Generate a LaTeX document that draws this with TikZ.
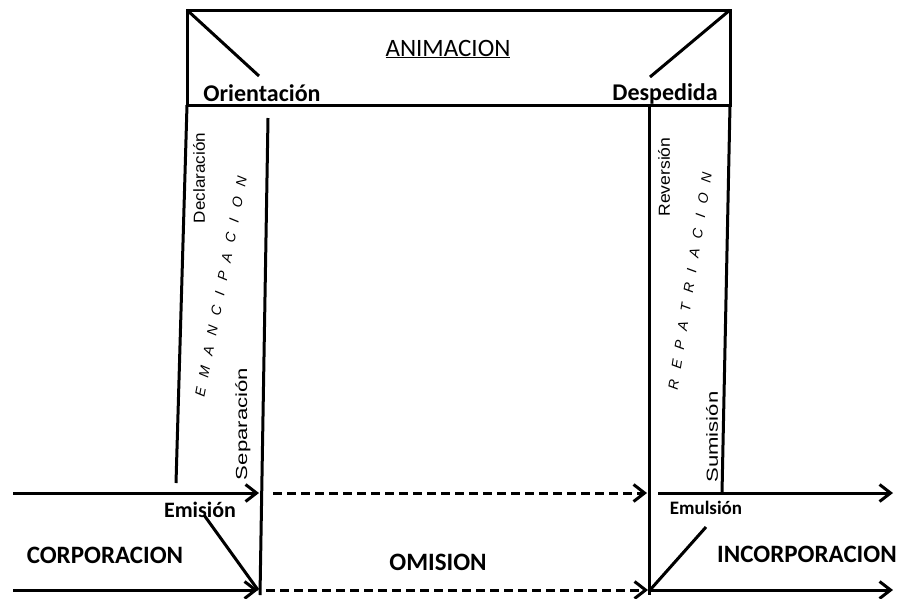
\documentclass[tikz,border=0pt]{standalone}
\usepackage{fontspec}
\setmainfont{Carlito}
\newfontfamily\arialf{Liberation Sans}
\newfontfamily\spacedf[LetterSpace=76]{Liberation Sans}
\usetikzlibrary{arrows.meta}
\begin{document}
\begin{tikzpicture}[x=1pt,y=-1pt,
  ln/.style={line width=3pt},
  dsh/.style={line width=3pt, dash pattern=on 9pt off 5pt},
  arr/.style={-{Straight Barb[length=11pt,width=17pt]}},
  big/.style={font=\fontsize{25}{30}\selectfont\bfseries, inner sep=0pt, anchor=base},
  mid/.style={font=\fontsize{24}{28}\selectfont\bfseries, inner sep=0pt, anchor=base},
  vert/.style={rotate=90, font=\arialf\fontsize{16}{19}\selectfont, inner sep=0pt},
  spc/.style={font=\spacedf\itshape\fontsize{14}{17}\selectfont, inner sep=0pt}
]
\useasboundingbox (0,0) rectangle (901,598);
% key points
\coordinate (tl) at (187,10);
\coordinate (tr) at (730,10);
\coordinate (bl) at (187,105);
\coordinate (br) at (730,105);
\coordinate (dl) at (259,76);
\coordinate (dr) at (650,77);
\coordinate (lo) at (176,483);
\coordinate (lit) at (268,118);
\coordinate (lib) at (260,595);
\coordinate (rit) at (649,105);
\coordinate (rib) at (649,595);
\coordinate (ro) at (722,493);
\coordinate (a1s) at (13,493);
\coordinate (a1e) at (259,493);
\coordinate (a2s) at (273,493);
\coordinate (a2e) at (647,493);
\coordinate (a3s) at (658,493);
\coordinate (a3e) at (893,493);
\coordinate (b1s) at (13,590);
\coordinate (b1e) at (258,590);
\coordinate (b2s) at (266,590);
\coordinate (b2e) at (648,590);
\coordinate (b3s) at (650,590);
\coordinate (b3e) at (893,590);
\coordinate (el) at (204,515);
\coordinate (er) at (706,527);

% top frame
\draw[ln, line join=miter] (tl) rectangle (br);
\draw[ln] (tl) -- (dl);
\draw[ln] (tr) -- (dr);
% columns
\draw[ln] (bl) -- (lo);
\draw[ln] (lit) -- (lib);
\draw[ln] (rit) -- (rib);
\draw[ln] (br) -- (ro);
% arrows
\draw[ln, arr] (a1s) -- (a1e);
\draw[dsh, arr] (a2s) -- (a2e);
\draw[ln, arr] (a3s) -- (a3e);
\draw[ln, arr] (b1s) -- (b1e);
\draw[dsh, arr] (b2s) -- (b2e);
\draw[ln, arr] (b3s) -- (b3e);
% diagonals at bottom
\draw[ln] (el) -- (b1e);
\draw[ln] (er) -- (b3s);

% labels
\node[font=\fontsize{25}{30}\selectfont, inner sep=0pt, anchor=base] (anim) at (448,56) {\underline{ANIMACION}};
\node[mid] (orient) at (262,101) {Orientación};
\node[mid] (desp) at (665,100) {Despedida};
\node[mid, font=\fontsize{22}{26}\selectfont\bfseries] (emis) at (200,517) {Emisión};
\node[mid, font=\fontsize{19}{23}\selectfont\bfseries] (emul) at (706,514) {Emulsión};
\node[big] (corp) at (105,563) {CORPORACION};
\node[big] (omis) at (438,570) {OMISION};
\node[big] (incorp) at (807,562) {INCORPORACION};
\node[vert] (decl) at (199,178) {\resizebox{90pt}{\height}{Declaración}};
\node[vert] (sepa) at (243,424) {\resizebox{112pt}{\height}{Separación}};
\node[vert] (reve) at (664,177) {\resizebox{79pt}{\height}{Reversión}};
\node[vert] (sumi) at (712,437) {\resizebox{91pt}{\height}{Sumisión}};
\node[spc, rotate=79] (eman) at (221,287) {EMANCIPACION};
\node[spc, rotate=81] (repa) at (690,281) {REPATRIACION};
\end{tikzpicture}
\end{document}
